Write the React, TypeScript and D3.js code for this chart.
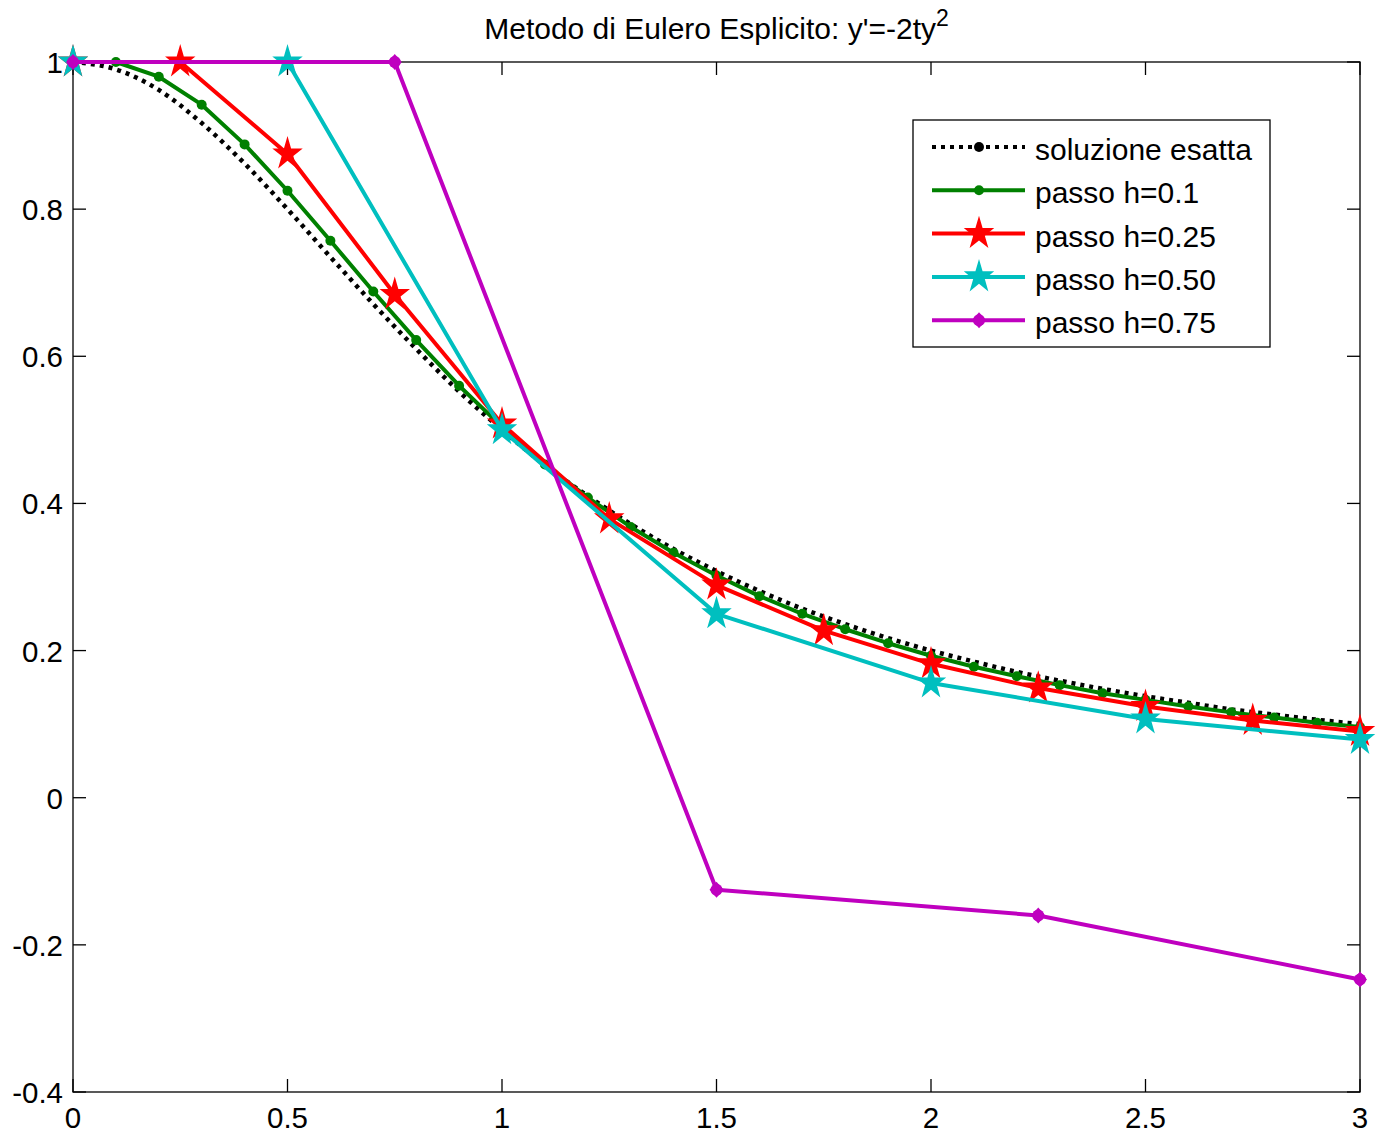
import React, {useEffect, useRef} from 'react';
import * as d3 from 'd3';

// valori
const tExact = d3.range(0, 31).map(i => i / 10);
const yExact = [1, 0.990, 0.962, 0.917, 0.862, 0.800, 0.735, 0.671, 0.610, 0.552, 0.500,
    0.452, 0.410, 0.372, 0.338, 0.308, 0.281, 0.257, 0.236, 0.217, 0.200,
    0.185, 0.171, 0.159, 0.148, 0.138, 0.129, 0.120, 0.113, 0.106, 0.100];

const t01 = d3.range(0, 31).map(i => i / 10);
const y01 = [1, 1, 0.980, 0.942, 0.888, 0.825, 0.757, 0.688, 0.622, 0.560, 0.504,
    0.453, 0.408, 0.368, 0.333, 0.302, 0.274, 0.250, 0.229, 0.210, 0.193,
    0.178, 0.165, 0.153, 0.142, 0.133, 0.124, 0.116, 0.109, 0.102, 0.096];

const t025 = [0, 0.25, 0.5, 0.75, 1, 1.25, 1.5, 1.75, 2, 2.25, 2.5, 2.75, 3];
const y025 = [1, 1, 0.875, 0.684, 0.508, 0.379, 0.289, 0.227, 0.182, 0.149, 0.124, 0.105, 0.090];

const t050 = [0, 0.5, 1, 1.5, 2, 2.5, 3];
const y050 = [1, 1, 0.5, 0.25, 0.156, 0.107, 0.079];

const t075 = [0, 0.75, 1.5, 2.25, 3];
const y075 = [1, 1, -0.125, -0.160, -0.247];

const xTicks = [0, 0.5, 1, 1.5, 2, 2.5, 3];
const yTicks = [-0.4, -0.2, 0, 0.2, 0.4, 0.6, 0.8, 1];
const legendLabels = ['soluzione esatta', 'passo h=0.1', 'passo h=0.25', 'passo h=0.50', 'passo h=0.75'];

const W = 1379, H = 1134;
const FONT = 'Arial, "Liberation Sans", Helvetica, sans-serif';

const starPath = (R: number) => {
    const r = R * 0.382;
    const pts: string[] = [];
    for (let i = 0; i < 10; i++) {
        const a = -Math.PI / 2 + i * Math.PI / 5;
        const rr = i % 2 === 0 ? R : r;
        pts.push(`${(rr * Math.cos(a)).toFixed(2)},${(rr * Math.sin(a) * 1.12).toFixed(2)}`);
    }
    return 'M' + pts.join('L') + 'Z';
};

const App = () => {
    const ref = useRef<SVGSVGElement>(null);

    useEffect(() => {
        const svg = d3.select(ref.current);
        svg.selectAll('*').remove();

        const margin = {top: 62, right: 19, bottom: 42, left: 73};
        const x = d3.scaleLinear().domain([0, 3]).range([margin.left, W - margin.right]);
        const y = d3.scaleLinear().domain([-0.4, 1]).range([H - margin.bottom, margin.top]);

        svg.append('rect').attr('width', W).attr('height', H).attr('fill', '#fff');

        // assi
        const [x0, x1] = x.range();
        const [y0, y1] = y.range();
        const ax = svg.append('g').attr('stroke', '#000').attr('stroke-width', 1.3);
        ax.append('rect').attr('x', x0).attr('y', y1).attr('width', x1 - x0).attr('height', y0 - y1)
            .attr('fill', 'none');
        const tl = 13;
        xTicks.forEach(v => {
            ax.append('line').attr('x1', x(v)).attr('x2', x(v)).attr('y1', y0).attr('y2', y0 - tl);
            ax.append('line').attr('x1', x(v)).attr('x2', x(v)).attr('y1', y1).attr('y2', y1 + tl);
        });
        yTicks.forEach(v => {
            ax.append('line').attr('x1', x0).attr('x2', x0 + tl).attr('y1', y(v)).attr('y2', y(v));
            ax.append('line').attr('x1', x1).attr('x2', x1 - tl).attr('y1', y(v)).attr('y2', y(v));
        });

        svg.append('g').selectAll('text').data(xTicks).enter().append('text')
            .attr('x', d => x(d)).attr('y', y0 + 36)
            .attr('text-anchor', 'middle').attr('font-family', FONT).attr('font-size', 29.5)
            .text(d => d3.format('~g')(d));
        svg.append('g').selectAll('text').data(yTicks).enter().append('text')
            .attr('x', x0 - 10).attr('y', d => y(d) + 11)
            .attr('text-anchor', 'end').attr('font-family', FONT).attr('font-size', 29.5)
            .text(d => d3.format('~g')(d).replace('−', '-'));

        // titolo
        const title = svg.append('text').attr('x', (x0 + x1) / 2).attr('y', 39)
            .attr('text-anchor', 'middle').attr('font-family', FONT).attr('font-size', 30);
        title.append('tspan').text("Metodo di Eulero Esplicito: y'=-2ty");
        title.append('tspan').attr('dy', -13).attr('font-size', 23).text('2');

        const line = d3.line<[number, number]>().x(d => x(d[0])).y(d => y(d[1]));
        const zip = (ts: number[], ys: number[]) => ts.map((t, i) => [t, ys[i]] as [number, number]);

        // soluzione esatta
        svg.append('path').datum(zip(tExact, yExact))
            .attr('d', line.curve(d3.curveMonotoneX))
            .attr('fill', 'none').attr('stroke', '#000').attr('stroke-width', 4.5)
            .attr('stroke-dasharray', '4 5');
        line.curve(d3.curveLinear);

        const series = [
            {ts: t01, ys: y01, color: '#008000', marker: 'dot'},
            {ts: t025, ys: y025, color: '#ff0000', marker: 'star'},
            {ts: t050, ys: y050, color: '#00bfbf', marker: 'star'},
            {ts: t075, ys: y075, color: '#bf00bf', marker: 'diamond'},
        ];

        const drawMarker = (g: any, m: string, color: string, cx: number, cy: number) => {
            if (m === 'dot') {
                g.append('circle').attr('cx', cx).attr('cy', cy).attr('r', 5).attr('fill', color);
            } else if (m === 'star') {
                g.append('path').attr('d', starPath(16)).attr('transform', `translate(${cx},${cy})`)
                    .attr('fill', color);
            } else {
                g.append('path').attr('d', 'M0,-8L7,0L0,8L-7,0Z').attr('transform', `translate(${cx},${cy})`)
                    .attr('fill', color);
                g.append('circle').attr('cx', cx).attr('cy', cy).attr('r', 6).attr('fill', color);
            }
        };

        series.forEach(s => {
            const data = zip(s.ts, s.ys);
            const g = svg.append('g');
            g.append('path').datum(data).attr('d', line)
                .attr('fill', 'none').attr('stroke', s.color).attr('stroke-width', 4)
                .attr('stroke-linejoin', 'round');
            data.forEach(d => drawMarker(g, s.marker, s.color, x(d[0]), y(d[1])));
        });

        // legenda
        const lg = svg.append('g');
        lg.append('rect').attr('x', 913).attr('y', 120).attr('width', 357).attr('height', 227)
            .attr('fill', '#fff').attr('stroke', '#000').attr('stroke-width', 1.3);
        const rows = [
            {color: '#000', marker: 'dotBlack', dash: '4 5'},
            {color: '#008000', marker: 'dot', dash: null},
            {color: '#ff0000', marker: 'star', dash: null},
            {color: '#00bfbf', marker: 'star', dash: null},
            {color: '#bf00bf', marker: 'diamond', dash: null},
        ];
        rows.forEach((r, i) => {
            const cy = 147 + i * 43.3;
            lg.append('line').attr('x1', 932).attr('x2', 1025).attr('y1', cy).attr('y2', cy)
                .attr('stroke', r.color).attr('stroke-width', 4)
                .attr('stroke-dasharray', r.dash);
            if (r.marker === 'dotBlack') {
                lg.append('circle').attr('cx', 979).attr('cy', cy).attr('r', 5).attr('fill', '#000');
            } else {
                drawMarker(lg, r.marker, r.color, 979, cy);
            }
            lg.append('text').attr('x', 1035).attr('y', cy + 13)
                .attr('font-family', FONT).attr('font-size', 30).text(legendLabels[i]);
        });
    }, []);

    return (
        <div>
            <svg ref={ref} width={W} height={H} style={{position: 'absolute', left: 0, top: 0}}/>
        </div>
    );
};

export default App;
